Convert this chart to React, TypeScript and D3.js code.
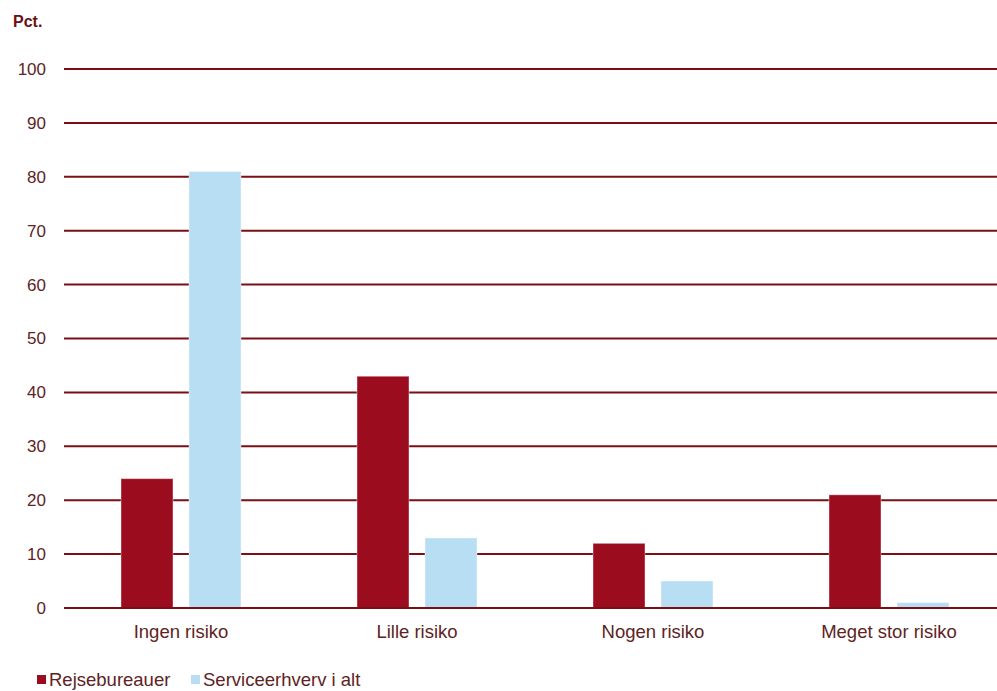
import React from "react";
import * as d3 from "d3";

const categories = ["Ingen risiko", "Lille risiko", "Nogen risiko", "Meget stor risiko"];
const seriesNames = ["Rejsebureauer", "Serviceerhverv i alt"];
const rejsebureauer = [24, 43, 12, 21];
const serviceerhverv = [81, 13, 5, 1];
const yTicks = [0, 10, 20, 30, 40, 50, 60, 70, 80, 90, 100];

const colors = ["#9b0c1e", "#b8def3"];
const textColor = "#5e2323";
const gridColor = "#7a0f14";

export default function App() {
  const W = 997, H = 691;
  const left = 64, right = 997, top = 69, bottom = 608;
  const x = d3.scaleBand<string>().domain(categories).range([63, 1007]);
  const y = d3.scaleLinear().domain([0, 100]).range([bottom, top]);
  const barW = 52, gap = 16;
  const series = [rejsebureauer, serviceerhverv];

  return (
    <svg width={W} height={H} style={{ position: "absolute", left: 0, top: 0, background: "#fff" }}
      fontFamily="'Liberation Sans', Arial, sans-serif">
      <text x={13} y={27} fontSize={16} fontWeight="bold" fill="#6b0f14">Pct.</text>
      {yTicks.map((t) => (
        <g key={t}>
          <line x1={left} x2={right} y1={y(t)} y2={y(t)} stroke={gridColor} strokeWidth={2} />
          <text x={46} y={y(t)} dy="0.35em" textAnchor="end" fontSize={17} fill={textColor}>{t}</text>
        </g>
      ))}
      {categories.map((c, i) => {
        const cx = (x(c) as number) + x.bandwidth() / 2;
        return (
          <g key={c}>
            {series.map((s, j) => {
              const bx = j === 0 ? cx - gap / 2 - barW : cx + gap / 2;
              return (
                <rect key={j} x={bx} y={y(s[i])} width={barW} height={y(0) - y(s[i])}
                  fill={colors[j]} stroke="#fff" strokeOpacity={0.4} strokeWidth={1} />
              );
            })}
            <text x={cx} y={638} textAnchor="middle" fontSize={18.5} fill={textColor}>{c}</text>
          </g>
        );
      })}
      <line x1={left} x2={right} y1={y(0)} y2={y(0)} stroke={gridColor} strokeWidth={2} />
      {seriesNames.map((n, j) => {
        const lx = j === 0 ? 37 : 191;
        return (
          <g key={n}>
            <rect x={lx} y={675} width={9} height={9} fill={colors[j]} />
            <text x={lx + 12} y={686} fontSize={18.5} fill={textColor}>{n}</text>
          </g>
        );
      })}
    </svg>
  );
}
